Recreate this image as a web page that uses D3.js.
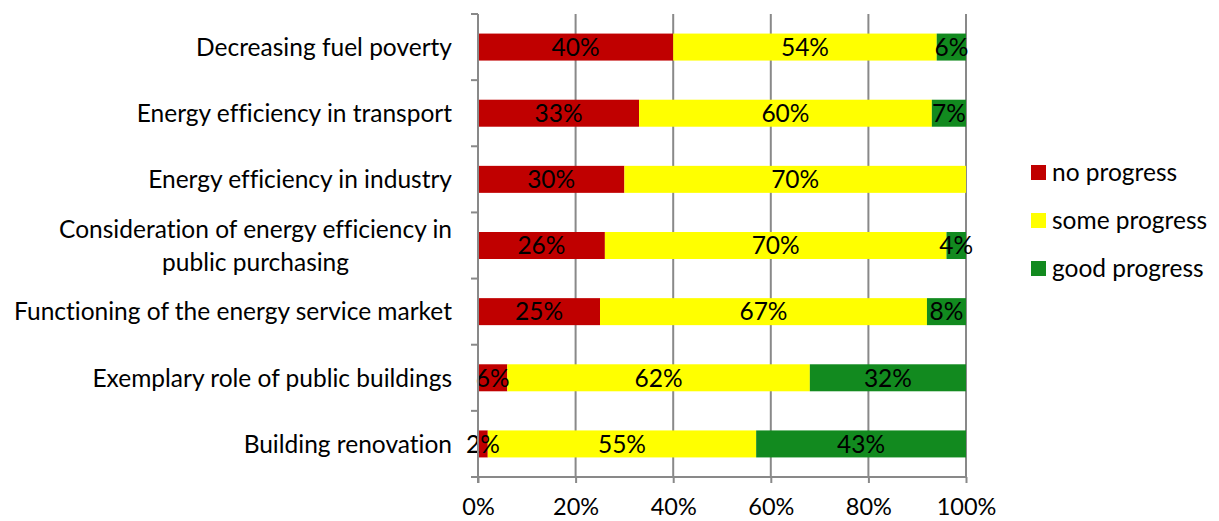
<!DOCTYPE html>
<html><head><meta charset="utf-8">
<script src="https://cdn.jsdelivr.net/npm/d3@7"></script>
<style>
body{margin:0;background:#fff;}
svg text{font-family:Lato, "Open Sans", sans-serif;fill:#000;font-variant-ligatures:none;}
</style></head>
<body><svg id="c" width="1219" height="521"></svg>
<script>
const categories = [
  "Decreasing fuel poverty",
  "Energy efficiency in transport",
  "Energy efficiency in industry",
  "Consideration of energy efficiency in|public purchasing",
  "Functioning of the energy service market",
  "Exemplary role of public buildings",
  "Building renovation"
];
const seriesNames = ["no progress", "some progress", "good progress"];
const noProgress   = [40, 33, 30, 26, 25, 6, 2];
const someProgress = [54, 60, 70, 70, 67, 62, 55];
const goodProgress = [6, 7, 0, 4, 8, 32, 43];
const xTicks = [0, 20, 40, 60, 80, 100];
const colors = ["#C00000", "#FFFF00", "#128A1F"];

(function(){
const svg = d3.select("#c");
const pL = 478, pR = 966, pT = 14, pB = 477;
const fs = 24.5;

const x = d3.scaleLinear().domain([0, 100]).range([pL, pR]);
const yb = d3.scaleBand().domain(categories).range([pT, pB]);

// gridlines
svg.append("g").selectAll("line").data(xTicks.slice(1)).join("line")
  .attr("x1", d => x(d)).attr("x2", d => x(d))
  .attr("y1", pT).attr("y2", pB)
  .attr("stroke", "#898989").attr("stroke-width", 2);

// bars
const rows = categories.map((c, i) => ({cat: c, vals: [noProgress[i], someProgress[i], goodProgress[i]]}));
const barH = 27;
rows.forEach(r => {
  let acc = 0;
  r.vals.forEach((v, k) => {
    const x0 = acc; acc += v;
    if (v <= 0) return;
    const cy = yb(r.cat) + yb.bandwidth() / 2;
    svg.append("rect")
      .attr("x", x(x0)).attr("width", x(acc) - x(x0))
      .attr("y", cy - barH / 2).attr("height", barH)
      .attr("fill", colors[k]);
  });
});
rows.forEach(r => {
  let acc = 0;
  r.vals.forEach((v, k) => {
    const x0 = acc; acc += v;
    if (v <= 0) return;
    const cy = yb(r.cat) + yb.bandwidth() / 2;
    svg.append("text")
      .attr("x", (x(x0) + x(acc)) / 2).attr("y", cy)
      .attr("dy", "0.36em").attr("text-anchor", "middle")
      .style("font-size", fs + "px")
      .text(v + "%");
  });
});

// left axis line with ticks
const yAxisG = svg.append("g");
yAxisG.append("line").attr("x1", pL).attr("x2", pL).attr("y1", pT).attr("y2", pB + 6)
  .attr("stroke", "#898989").attr("stroke-width", 2);
const bounds = categories.map(c => yb(c)).concat([pB]);
yAxisG.selectAll("line.t").data(bounds).join("line").attr("class", "t")
  .attr("x1", pL - 7).attr("x2", pL).attr("y1", d => d).attr("y2", d => d)
  .attr("stroke", "#898989").attr("stroke-width", 2);

// bottom axis
const xAxis = d3.axisBottom(x).tickValues(xTicks).tickFormat(d => d + "%").tickSize(6);
const gx = svg.append("g").attr("transform", `translate(0,${pB})`).call(xAxis);
gx.select(".domain").attr("stroke", "#898989").attr("stroke-width", 2).attr("d", `M${pL},0H${pR}`);
gx.selectAll(".tick line").attr("stroke", "#898989").attr("stroke-width", 2);
gx.selectAll(".tick text").attr("y", 30).attr("dy", "0.36em")
  .style("font-size", "23.5px").style("font-family", "Lato, 'Open Sans', sans-serif").attr("fill", "#000");

// category labels
categories.forEach(c => {
  const lines = c.split("|");
  const cy = yb(c) + yb.bandwidth() / 2;
  const lh = 33;
  if (lines.length === 1) {
    svg.append("text").attr("x", 452).attr("y", cy).attr("dy", "0.36em")
      .attr("text-anchor", "end").style("font-size", fs + "px").text(lines[0]);
  } else {
    const tmp = svg.append("text").style("font-size", fs + "px").text(lines[0]);
    const w = tmp.node().getComputedTextLength(); tmp.remove();
    const cx = 452 - w / 2;
    lines.forEach((ln, i) => {
      svg.append("text").attr("x", cx).attr("y", cy - (lines.length - 1) * lh / 2 + i * lh)
        .attr("dy", "0.36em").attr("text-anchor", "middle").style("font-size", fs + "px").text(ln);
    });
  }
});

// legend
const legY = [172, 220, 268];
seriesNames.forEach((n, i) => {
  svg.append("rect").attr("x", 1031).attr("y", legY[i] - 7).attr("width", 15).attr("height", 15).attr("fill", colors[i]);
  svg.append("text").attr("x", 1052).attr("y", legY[i]).attr("dy", "0.36em").style("font-size", fs + "px").text(n);
});
})();
</script></body></html>
